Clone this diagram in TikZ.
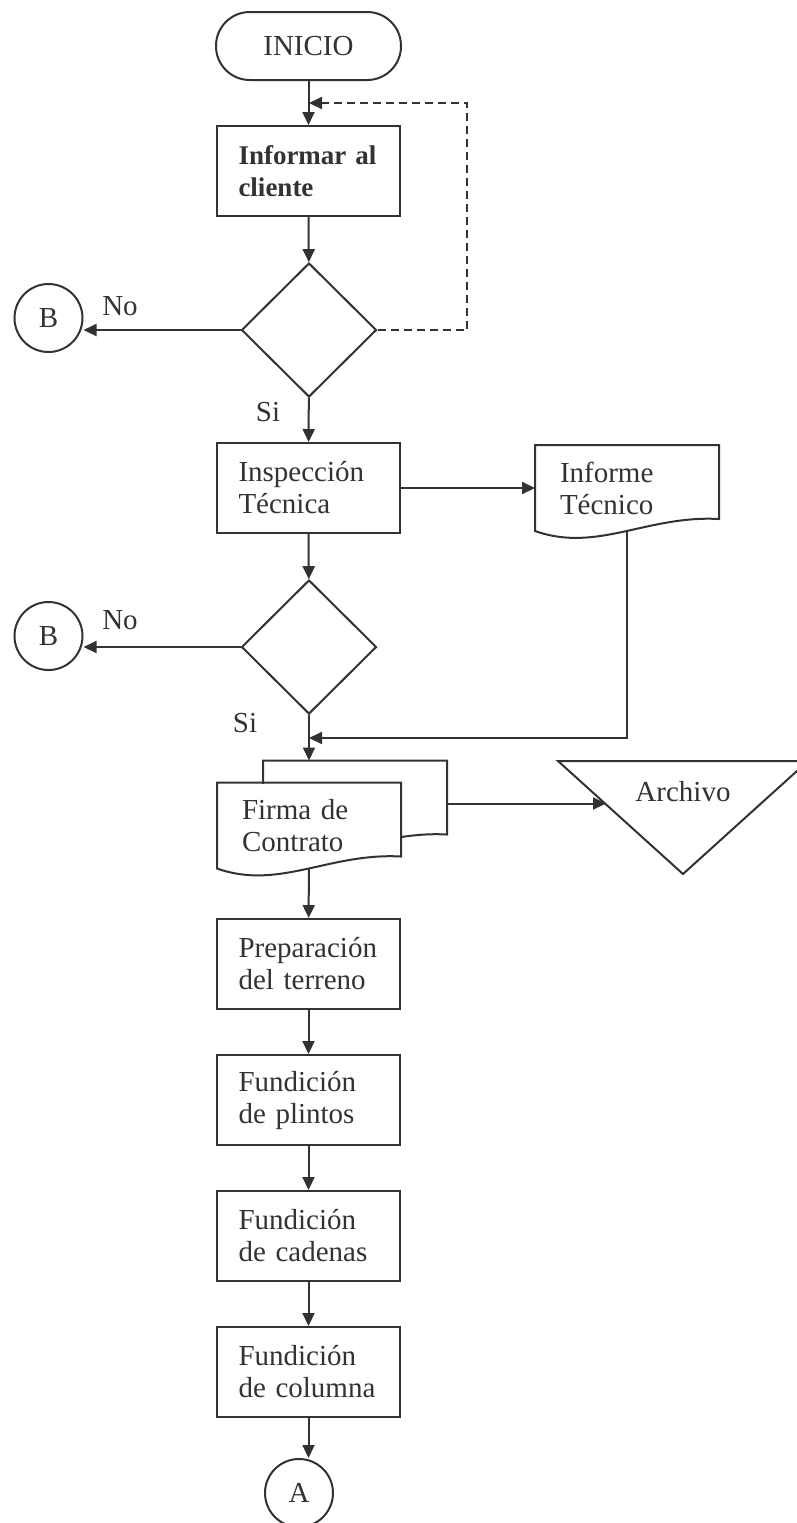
\documentclass[tikz,border=0pt]{standalone}
\usepackage{fontspec}
\setmainfont{Liberation Serif}
\usetikzlibrary{shapes.geometric,arrows.meta}

\definecolor{ink}{RGB}{50,50,50}

% outline of a document symbol (wavy bottom) drawn round a node
\newcommand{\wavydoc}[1]{%
  \draw (#1.north west) -- (#1.north east) -- ([yshift=6pt]#1.south east)
    .. controls ([xshift=10pt,yshift=8pt]#1.south) and ([xshift=-15pt,yshift=-11pt]#1.south) .. (#1.south west) -- cycle;}

\begin{document}
\begin{tikzpicture}[
      x=0.5pt, y=-0.5pt,
      node distance=68pt,
      color=ink, line width=1pt,
      font=\fontsize{14.5}{16}\selectfont,
      box/.style={rectangle, draw, minimum width=91.5pt, minimum height=45pt, text width=70pt, inner xsep=10.75pt, inner ysep=0pt, align=left},
      terminal/.style={rectangle, draw, rounded corners=16.9pt, minimum width=92.5pt, minimum height=34pt},
      decision/.style={diamond, draw, minimum width=67.5pt, minimum height=67pt, inner sep=0pt},
      connector/.style={circle, draw, minimum size=34pt, inner sep=0pt},
      doc/.style={rectangle, minimum width=91pt, minimum height=42pt, text width=67pt, inner xsep=12pt, inner ysep=0pt, align=left},
      flow/.style={-{Triangle[length=6.5pt,width=6pt]}}
    ]
      \useasboundingbox (0,0) rectangle (797,1523);

      % Start and first check
      \node[terminal] (inicio) at (308.5,46) {INICIO};
      \node[box, font=\fontsize{13.5}{16}\selectfont\bfseries] (informar) at (308.5,171) {Informar al\\cliente};
      \node[decision] (dec1) at (309,330) {};
      \node[connector] (b1) at (48.5,318) {B};
      \coordinate (loop) at (309,103);
      \coordinate (loopcorner) at (467,103);

      \draw[flow] (inicio) -- (informar);
      \draw[flow] (informar) -- (dec1);
      \draw[flow] (dec1.west) -- (dec1.west -| b1.east);
      \draw[flow, dash pattern=on 4pt off 2.5pt] (dec1.east) -| (loopcorner) -- (loop);
      \node at (120,306) {No};
      \node at (268,412) {Si};

      % Inspection and report
      \node[box] (insp) at (308.5,488) {Inspección\\Técnica};
      \node[doc] (informe) at (627,488) {Informe\\Técnico};
      \wavydoc{informe}

      \draw[flow] (dec1) -- (insp);
      \draw[flow] (insp.east) -- (insp.east -| informe.west);

      % Second check
      \node[decision] (dec2) at (309,647) {};
      \node[connector] (b2) at (48.5,636) {B};

      \draw[flow] (insp) -- (dec2);
      \draw[flow] (dec2.west) -- (dec2.west -| b2.east);
      \node at (120,620) {No};
      \node at (245,723) {Si};

      % Contract (two sheets) and archive
      \node[doc] (firmab) at (355,803.5) {};
      \wavydoc{firmab}
      \node[doc, fill=white] (firma) at (309,825.5) {Firma de\\Contrato};
      \wavydoc{firma}
      \coordinate (join) at (309,738);

      \draw[flow] (dec2.south) -- (dec2.south |- firmab.north);
      \draw[flow] (informe.south) |- (join);

      \begin{scope}
        \clip (0,0) rectangle (797,1523);
        \draw (558,761) -- (808,761) -- (683,874) -- cycle;
      \end{scope}
      \node (archivo) at (683,792) {Archivo};
      \coordinate (archin) at (606,805);
      \draw[flow] (firmab.east) -- (firmab.east -| archin);

      % Construction steps
      \node[box] (prep) at (308.5,964) {Preparación\\del terreno};
      \node[box, below of=prep] (plintos) {Fundición\\de plintos};
      \node[box, below of=plintos] (cadenas) {Fundición\\de cadenas};
      \node[box, below of=cadenas] (columna) {Fundición\\de columna};
      \node[connector] (a) at (299,1493) {A};

      \draw[flow] (firma) -- (prep);
      \draw[flow] (prep) -- (plintos);
      \draw[flow] (plintos) -- (cadenas);
      \draw[flow] (cadenas) -- (columna);
      \draw[flow] (columna.south) -- (columna.south |- a.north);
    \end{tikzpicture}
\end{document}
